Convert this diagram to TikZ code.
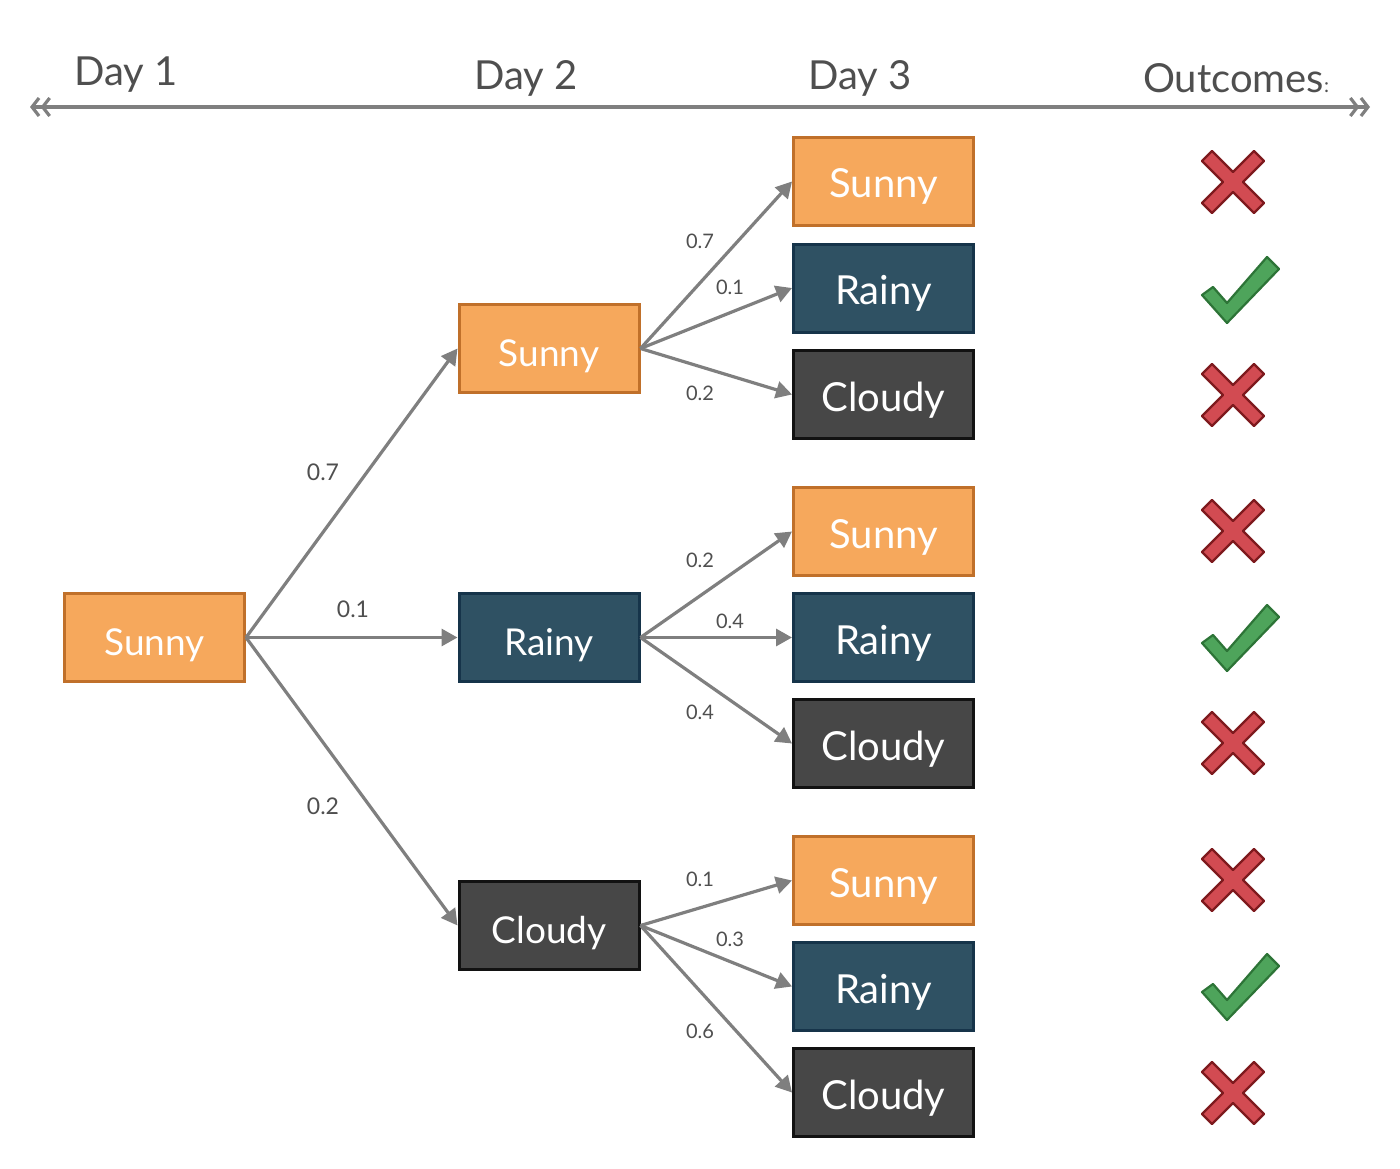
\documentclass[tikz,border=0pt]{standalone}
\usepackage{fontspec}
\setmainfont{Lato}
\usetikzlibrary{arrows.meta}
\definecolor{sunfill}{HTML}{F6A85C}
\definecolor{sunline}{HTML}{C0702A}
\definecolor{rainfill}{HTML}{2F5163}
\definecolor{rainline}{HTML}{16344A}
\definecolor{cloudfill}{HTML}{474747}
\definecolor{cloudline}{HTML}{121212}
\definecolor{edgegray}{HTML}{7F7F7F}
\definecolor{txtgray}{HTML}{4F4F4F}
\definecolor{xfill}{HTML}{D24B52}
\definecolor{xline}{HTML}{7E1A1E}
\definecolor{vfill}{HTML}{4EA45B}
\definecolor{vline}{HTML}{2D7437}
\tikzset{
  box/.style={rectangle, minimum width=180pt, minimum height=88pt, line width=3pt, text=white, inner sep=0pt, text depth=0pt},
  sunbox/.style={box, fill=sunfill, draw=sunline},
  rainbox/.style={box, fill=rainfill, draw=rainline},
  cloudbox/.style={box, fill=cloudfill, draw=cloudline},
  big/.style={font=\fontsize{40}{44}\selectfont, text height=33pt},
  mid/.style={font=\fontsize{37}{40}\selectfont, text height=35pt},
  conn/.style={draw=edgegray, line width=3.2pt, -{Triangle[length=16pt,width=17pt]}},
  prob/.style={text=txtgray, font=\fontsize{20}{22}\selectfont, inner sep=0pt},
  probbig/.style={text=txtgray, font=\fontsize{23}{26}\selectfont, inner sep=0pt},
  head/.style={text=txtgray, font=\fontsize{40}{44}\selectfont, inner sep=0pt},
  cross/.style={fill=xfill, draw=xline, line width=2.2pt, line join=round},
  tick/.style={fill=vfill, draw=vline, line width=2.2pt, line join=round},
}
\newcommand{\crossmark}[2]{%
  \draw[cross, shift={(#1,#2)}] (0,-10) -- (21,-31) -- (31,-21) -- (10,0) -- (31,21) -- (21,31) -- (0,10) -- (-21,31) -- (-31,21) -- (-10,0) -- (-31,-21) -- (-21,-31) -- cycle;}
\newcommand{\tickmark}[2]{%
  \draw[tick, shift={(#1,#2)}] (-38,5) -- (-27,-3) -- (-13,13) -- (27,-33) -- (39,-21) -- (-13,33) -- cycle;}
\begin{document}
\begin{tikzpicture}[x=1pt,y=-1pt]
\useasboundingbox (0,0) rectangle (1400,1169);
% axis
\coordinate (axL) at (30,107);
\coordinate (axR) at (1370,107);
\draw[draw=edgegray, line width=3.2pt, {Straight Barb[length=7pt,width=18pt] Straight Barb[length=7pt,width=18pt]}-{Straight Barb[length=7pt,width=18pt] Straight Barb[length=7pt,width=18pt]}] (axL) -- (axR);
\node[head] (h1) at (126,75) {Day 1};
\node[head] (h2) at (526,78) {Day 2};
\node[head] (h3) at (860,78) {Day 3};
\node[head] (h4) at (1236,78) {Outcomes{\fontsize{20}{22}\selectfont:}};
% day 1
\node[sunbox, mid] (a) at (154.5,637.5) {Sunny};
% day 2
\node[sunbox, mid] (b1) at (549,348.5) {Sunny};
\node[rainbox, mid] (b2) at (549,637.5) {Rainy};
\node[cloudbox, mid] (b3) at (549,925.5) {Cloudy};
% day 3
\node[sunbox, big] (c1) at (883.5,181.5) {Sunny};
\node[rainbox, big] (c2) at (883.5,288) {Rainy};
\node[cloudbox, big] (c3) at (883.5,394.5) {Cloudy};
\node[sunbox, big] (c4) at (883.5,531.5) {Sunny};
\node[rainbox, big] (c5) at (883.5,637.5) {Rainy};
\node[cloudbox, big] (c6) at (883.5,743.5) {Cloudy};
\node[sunbox, big] (c7) at (883.5,880.5) {Sunny};
\node[rainbox, big] (c8) at (883.5,986.5) {Rainy};
\node[cloudbox, big] (c9) at (883.5,1092.5) {Cloudy};
% connectors
\draw[conn] (a.east) -- (b1.west);
\draw[conn] (a.east) -- (b2.west);
\draw[conn] (a.east) -- (b3.west);
\foreach \p/\q in {b1/c1,b1/c2,b1/c3,b2/c4,b2/c5,b2/c6,b3/c7,b3/c8,b3/c9}
  \draw[conn] (\p.east) -- (\q.west);
% probabilities
\node[probbig] (p1) at (323,472) {0.7};
\node[probbig] (p2) at (353,609) {0.1};
\node[probbig] (p3) at (323,806) {0.2};
\node[prob] (q1) at (700,241) {0.7};
\node[prob] (q2) at (730,287) {0.1};
\node[prob] (q3) at (700,393) {0.2};
\node[prob] (q4) at (700,560) {0.2};
\node[prob] (q5) at (730,621) {0.4};
\node[prob] (q6) at (700,712) {0.4};
\node[prob] (q7) at (700,879) {0.1};
\node[prob] (q8) at (730,939) {0.3};
\node[prob] (q9) at (700,1031) {0.6};
% outcomes
\crossmark{1233}{182}
\tickmark{1240}{290}
\crossmark{1233}{395}
\crossmark{1233}{531}
\tickmark{1240}{638}
\crossmark{1233}{743}
\crossmark{1233}{880}
\tickmark{1240}{987}
\crossmark{1233}{1093}
\end{tikzpicture}
\end{document}
